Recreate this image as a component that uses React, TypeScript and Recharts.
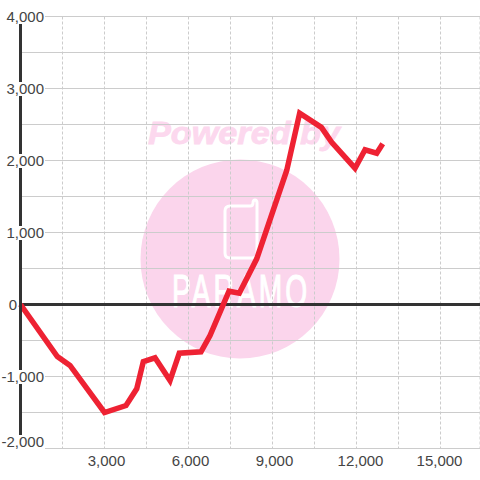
import { LineChart, Line, XAxis, YAxis, CartesianGrid, ReferenceLine } from 'recharts';

const xValues = [0, 1315, 1768, 3000, 3768, 4150, 4386, 4804, 5339, 5671, 6446, 6768, 7446, 7814, 8436, 9507, 9970, 10745, 11114, 11946, 12304, 12721, 12936];
const yValues = [0, -722, -847, -1500, -1403, -1171, -792, -740, -1056, -676, -657, -431, 185, 157, 634, 1861, 2657, 2460, 2254, 1893, 2149, 2101, 2232];
const xTicks = [1500, 3000, 4500, 6000, 7500, 9000, 10500, 12000, 13500, 15000];
const yTicks = [-2000, -1500, -1000, -500, 0, 500, 1000, 1500, 2000, 2500, 3000, 3500, 4000];

const data = xValues.map((x, i) => ({ x, y: yValues[i] }));

const fontFamily = '"Liberation Sans", Arial, sans-serif';
const labelColor = '#444444';

const xLabelShift: Record<number, number> = { 3000: 2, 6000: 2, 9000: 2, 12000: 4, 15000: -1 };

function XTick({ x, payload }: any) {
  if (payload.value % 3000 !== 0) return null;
  return (
    <text x={x + (xLabelShift[payload.value] ?? 0)} y={466} textAnchor="middle" fontSize={15} fontFamily={fontFamily} fill={labelColor}>
      {payload.value.toLocaleString('en-US')}
    </text>
  );
}

function YTick({ y, payload }: any) {
  const value = payload.value;
  if (value % 1000 !== 0) return null;
  if (value === 0) {
    return (
      <text x={17} y={y + 5} textAnchor="end" fontSize={15} fontFamily={fontFamily} fill={labelColor}>
        0
      </text>
    );
  }
  const shift = value === -2000 ? -7 : 0;
  return (
    <g>
      <rect x={4} y={y - 6.5 + shift} width={41} height={value === -2000 ? 16 : 14} fill="#ffffff" />
      <text x={44} y={y + 5 + shift} textAnchor="end" fontSize={15} fontFamily={fontFamily} fill={labelColor}>
        {value.toLocaleString('en-US')}
      </text>
    </g>
  );
}

function Watermark() {
  return (
    <svg width={480} height={480} style={{ position: 'absolute', left: 0, top: 0 }}>
      <text x={148} y={144} fontSize={31} fontWeight="bold" fontStyle="italic" fontFamily={fontFamily} fill="#fcd8ee" stroke="#fcd8ee" strokeWidth={0.8} textLength={192} lengthAdjust="spacingAndGlyphs">
        Powered by
      </text>
      <circle cx={240} cy={259} r={99.5} fill="#fbd5ec" />
      <path
        d="M230 206 H250 Q253 206 253 203 Q253 200 255 200 Q257 200 257 203 V253 Q257 258 252 258 H230 Q225 258 225 253 V211 Q225 206 230 206 Z"
        fill="none"
        stroke="#ffffff"
        strokeWidth={3}
      />
      <text transform="translate(172 307) scale(0.6 1)" fontSize={47} letterSpacing={5} fontFamily={fontFamily} fill="#ffffff" stroke="#ffffff" strokeWidth={1.2}>
        PARAMO
      </text>
    </svg>
  );
}

export default function App() {
  return (
    <div style={{ position: 'absolute', left: 0, top: 0, width: 480, height: 480, background: '#ffffff' }}>
      <Watermark />
      <div style={{ position: 'absolute', left: 0, top: 0 }}>
        <LineChart width={480} height={480} data={data} margin={{ top: 16.5, right: 0, bottom: 0, left: 19.5 }}>
          <CartesianGrid horizontal vertical={false} stroke="#cccccc" strokeWidth={1} />
          <CartesianGrid horizontal={false} vertical stroke="#cccccc" strokeWidth={1} strokeDasharray="3 2" />
          <XAxis
            dataKey="x"
            type="number"
            domain={[0, 16410]}
            ticks={xTicks}
            interval={0}
            axisLine={false}
            tickLine={false}
            height={31.5}
            tick={<XTick />}
          />
          <YAxis
            type="number"
            domain={[-2000, 4000]}
            ticks={yTicks}
            interval={0}
            width={1}
            axisLine={{ stroke: '#333333', strokeWidth: 3 }}
            tickLine={false}
            tick={<YTick />}
          />
          <ReferenceLine y={0} stroke="#333333" strokeWidth={3} />
          <Line
            type="linear"
            dataKey="y"
            stroke="#ee2233"
            strokeWidth={5.5}
            dot={false}
            isAnimationActive={false}
          />
        </LineChart>
      </div>
    </div>
  );
}
